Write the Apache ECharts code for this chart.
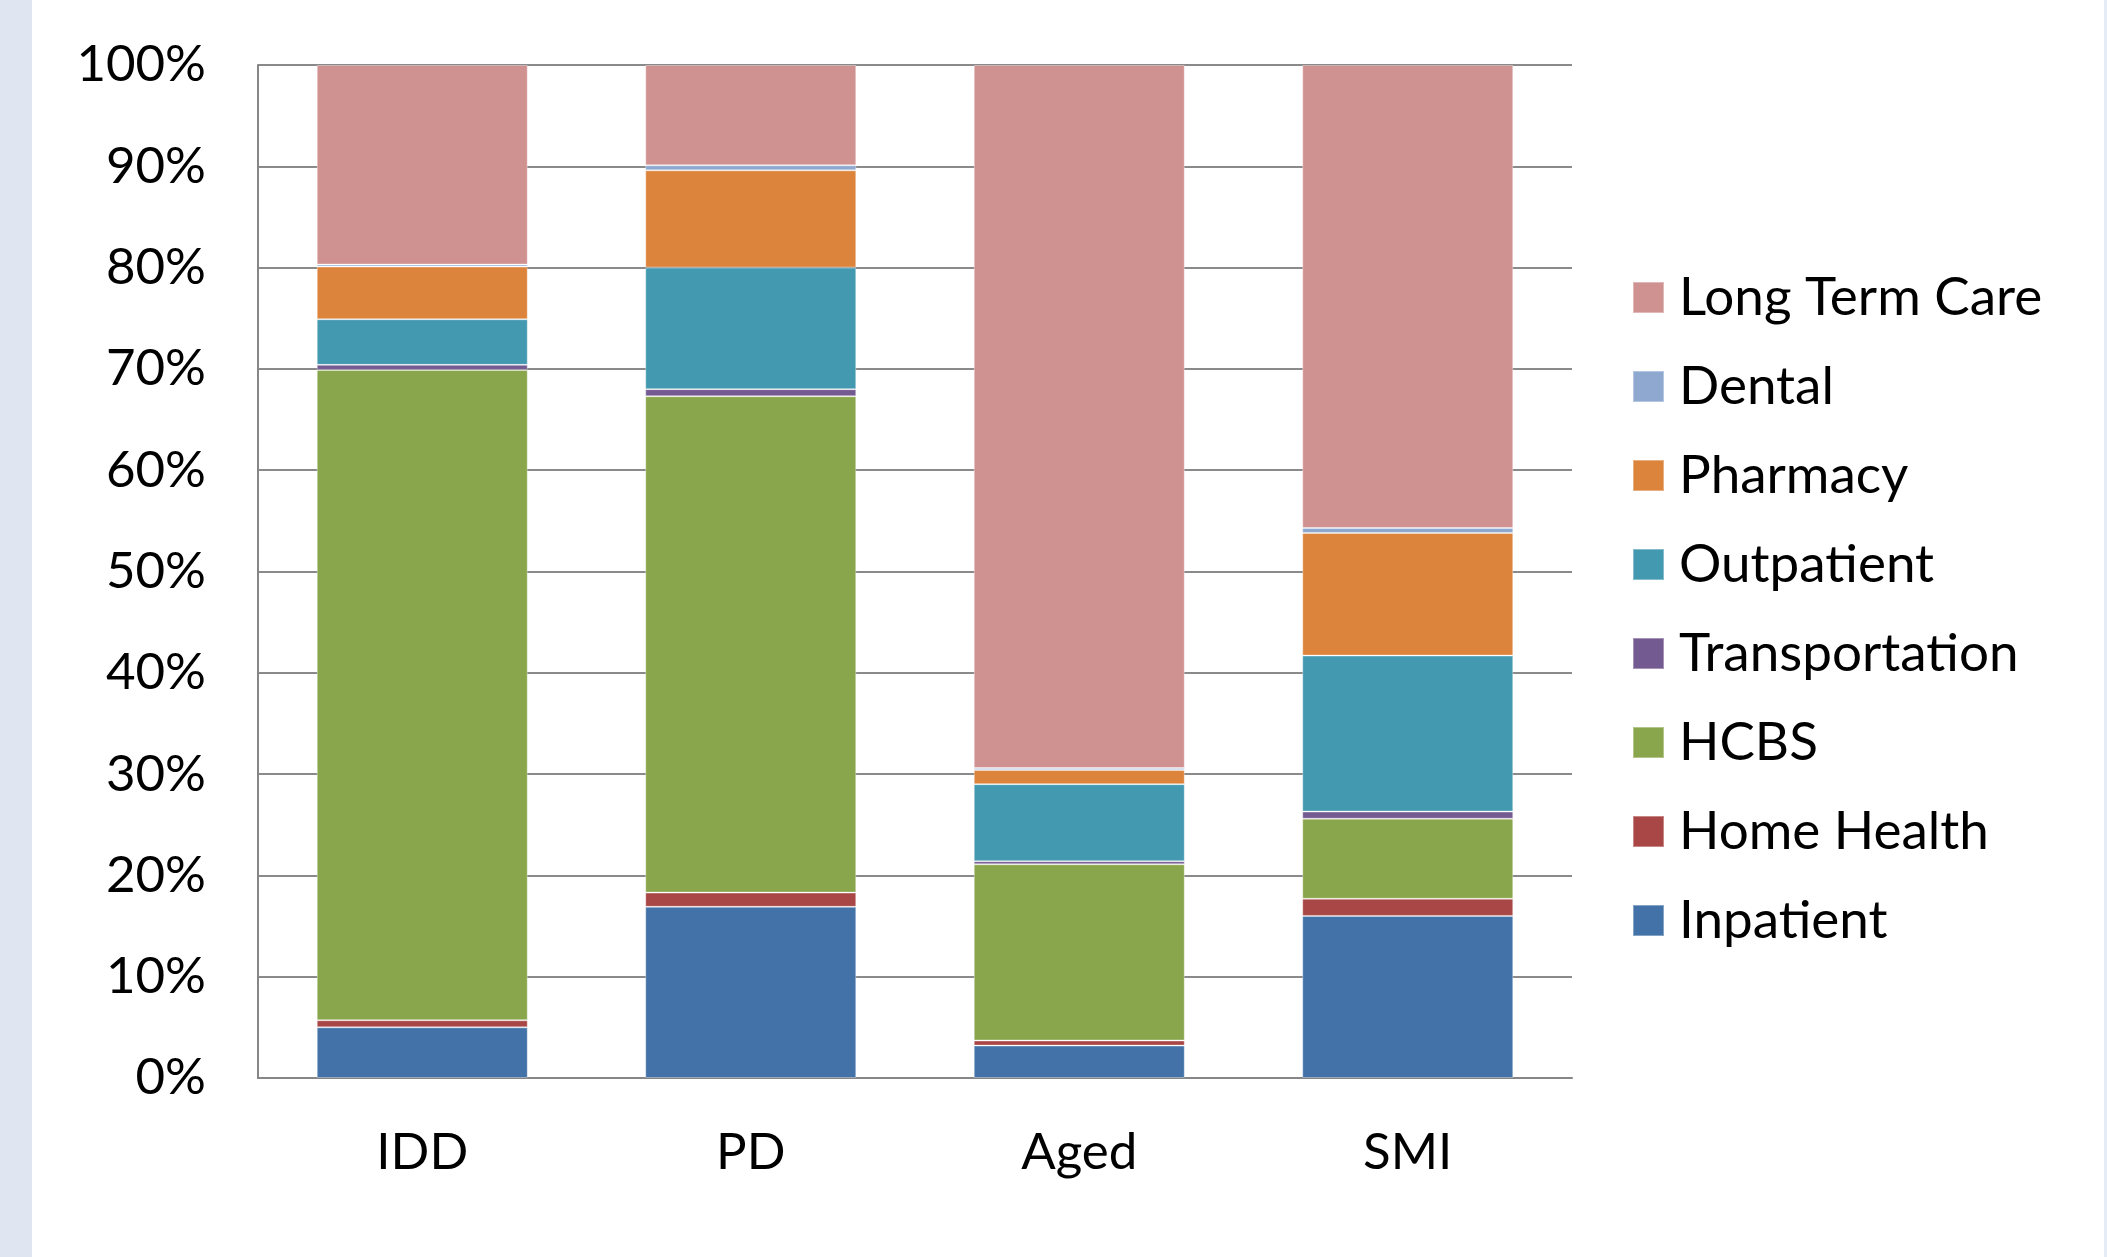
<!DOCTYPE html>
<html>
<head>
<meta charset="utf-8">
<script src="https://cdn.jsdelivr.net/npm/echarts@6/dist/echarts.min.js"></script>
<style>
html,body{margin:0;padding:0;background:#fff;}
#chart{width:2107px;height:1257px;}
</style>
</head>
<body>
<div id="chart"></div>
<script>
// Categories (x axis)
const categories = ['IDD', 'PD', 'Aged', 'SMI'];
// Y-axis tick values (percent)
const yTicks = [0, 10, 20, 30, 40, 50, 60, 70, 80, 90, 100];

// Series values: share of spending (%) per category, stacked bottom to top
const inpatient      = [5.0, 16.9, 3.2, 16.0];
const homeHealth     = [0.7, 1.4, 0.5, 1.7];
const hcbs           = [64.2, 49.0, 17.4, 7.9];
const transportation = [0.5, 0.7, 0.3, 0.7];
const outpatient     = [4.5, 12.0, 7.6, 15.4];
const pharmacy       = [5.2, 9.6, 1.4, 12.1];
const dental         = [0.2, 0.5, 0.2, 0.5];
const longTermCare   = [19.7, 9.9, 69.4, 45.7];

const seriesNames = ['Inpatient', 'Home Health', 'HCBS', 'Transportation', 'Outpatient', 'Pharmacy', 'Dental', 'Long Term Care'];
const seriesData = [inpatient, homeHealth, hcbs, transportation, outpatient, pharmacy, dental, longTermCare];
const seriesColors = ['#4272A7', '#A84745', '#8AA64C', '#735A91', '#4299B0', '#DC843C', '#8EA8CF', '#D09291'];

const FONT = 'Lato';
const FS = 51;
const LFS = 53;

const chart = echarts.init(document.getElementById('chart'), null, {renderer: 'canvas'});

const option = {
  backgroundColor: '#ffffff',
  animation: false,
  graphic: [
    {type: 'rect', left: 0, top: 0, shape: {width: 32, height: 1257}, style: {fill: '#DFE6F1'}, z: -1},
    {type: 'rect', left: 2104, top: 0, shape: {width: 3, height: 1257}, style: {fill: '#E6ECF5'}, z: -1}
  ],
  grid: {left: 258, top: 65, width: 1314, height: 1013},
  legend: {
    orient: 'vertical',
    left: 1627,
    top: 266,
    itemWidth: 31,
    itemHeight: 31,
    itemGap: 36,
    icon: 'rect',
    data: seriesNames.slice().reverse(),
    textStyle: {fontFamily: FONT, fontSize: LFS, lineHeight: LFS, color: '#000', padding: [0, 0, 0, 10]}
  },
  xAxis: {
    type: 'category',
    data: categories,
    axisLine: {show: true, lineStyle: {color: '#868686', width: 2}},
    axisTick: {show: false},
    axisLabel: {fontFamily: FONT, fontSize: FS, color: '#000', margin: 49}
  },
  yAxis: {
    type: 'value',
    min: yTicks[0],
    max: yTicks[yTicks.length - 1],
    interval: 10,
    axisLine: {show: true, lineStyle: {color: '#868686', width: 2}},
    axisTick: {show: false},
    splitLine: {show: true, lineStyle: {color: '#8A8A8A', width: 2}},
    axisLabel: {fontFamily: FONT, fontSize: FS, color: '#000', margin: 52, formatter: '{value}%'}
  },
  series: seriesNames.map((name, i) => ({
    name: name,
    type: 'bar',
    stack: 'total',
    barWidth: 211,
    data: seriesData[i],
    itemStyle: {color: seriesColors[i], borderColor: 'rgba(255,255,255,0.35)', borderWidth: 1},
    z: 3
  }))
};
chart.setOption(option);
</script>
</body>
</html>
